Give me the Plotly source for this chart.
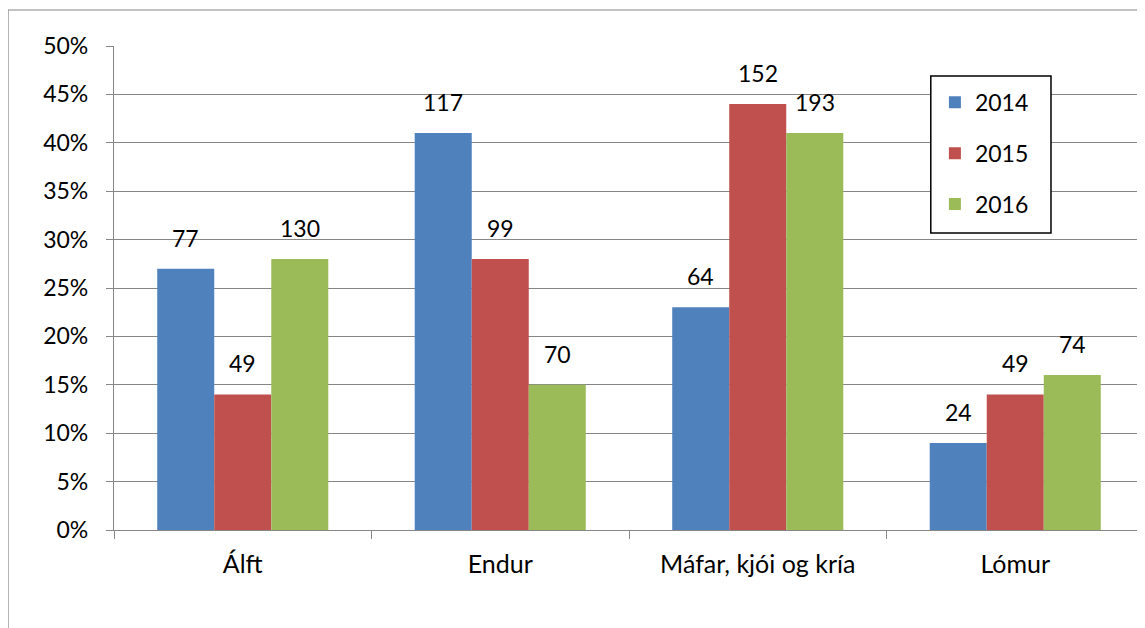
import plotly.graph_objects as go

categories = ["Álft", "Endur", "Máfar, kjói og kría", "Lómur"]
years = ["2014", "2015", "2016"]
pct_2014 = [27, 41, 23, 9]
pct_2015 = [14, 28, 44, 14]
pct_2016 = [28, 15, 41, 16]
n_2014 = [77, 117, 64, 24]
n_2015 = [49, 99, 152, 49]
n_2016 = [130, 70, 193, 74]
colors = ["#4F81BD", "#C0504D", "#9BBB59"]

pcts = [pct_2014, pct_2015, pct_2016]
counts = [n_2014, n_2015, n_2016]

FONT = "Lato, Carlito, Calibri, sans-serif"
FS = 23
BARW = 0.2214

fig = go.Figure()
for j, (yr, vals, col) in enumerate(zip(years, pcts, colors)):
    fig.add_trace(go.Bar(
        x=list(range(len(categories))), y=[v / 100 for v in vals], name=yr,
        marker=dict(color=col, line=dict(width=0)),
        width=BARW, offset=(j - 1.5) * BARW,
        legendgroup=yr,
    ))

annotations = []
for j, (vals, cnts) in enumerate(zip(pcts, counts)):
    for i, (v, c) in enumerate(zip(vals, cnts)):
        annotations.append(dict(
            x=i + (j - 1) * BARW, y=v / 100, text=str(c), showarrow=False,
            xref="x", yref="y", yanchor="bottom", yshift=15,
            font=dict(family=FONT, size=FS, color="#000000"),
        ))

# page has an 8px body margin: figure is 1137x620 placed at (8,8)
fig.update_layout(
    width=1137, height=620,
    margin=dict(l=106, r=1, t=38, b=98),
    paper_bgcolor="white", plot_bgcolor="white",
    font=dict(family=FONT, size=FS, color="#000000"),
    barmode="overlay",
    showlegend=True,
    legend=dict(
        x=0.797, y=0.928, xanchor="left", yanchor="top",
        borderwidth=0, bgcolor="rgba(0,0,0,0)",
        font=dict(family=FONT, size=FS), tracegroupgap=18,
        itemwidth=30,
    ),
    annotations=annotations,
    shapes=[
        dict(type="rect", xref="paper", yref="paper",
             x0=-0.1029, x1=1.2, y0=-0.5, y1=1.0744,
             line=dict(color="#868686", width=1.2)),
        dict(type="rect", xref="paper", yref="paper", layer="above",
             x0=0.793, x1=0.9097, y0=0.6136, y1=0.938,
             fillcolor="white", line=dict(color="#000000", width=1.5)),
    ],
)
fig.update_xaxes(
    range=[-0.5, 3.5],
    tickmode="array", tickvals=list(range(len(categories))), ticktext=categories,
    tickfont=dict(family=FONT, size=25),
    showline=True, linecolor="#868686", linewidth=1.2,
    ticks="", showgrid=False, zeroline=False,
    ticklabelstandoff=12,
)
fig.update_xaxes(minor=dict(tickvals=[-0.5, 0.5, 1.5, 2.5, 3.5], ticks="outside", ticklen=8,
                            tickcolor="#868686", tickwidth=1.2, showgrid=False))
fig.update_yaxes(
    range=[0, 0.5], dtick=0.05, tickformat=".0%",
    showline=True, linecolor="#868686", linewidth=1.2,
    showgrid=True, gridcolor="#868686", gridwidth=1.2,
    ticks="outside", ticklen=7, tickcolor="#868686", tickwidth=1.2,
    zeroline=False, ticklabelstandoff=13,
)

fig.write_html("out.html")
